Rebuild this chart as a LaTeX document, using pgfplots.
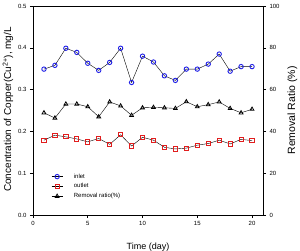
\documentclass[border=0pt]{standalone}
\usepackage{pgfplots}
\pgfplotsset{compat=1.18}
\usepackage{fontspec}
\setmainfont{Liberation Sans}
\definecolor{inblue}{RGB}{30,30,230}
\definecolor{outred}{RGB}{225,30,30}
\begin{document}
\begin{tikzpicture}
\useasboundingbox (-33pt,-35pt) rectangle (267pt,215pt);
\pgfplotsset{every axis/.append style={
  scale only axis, width=230pt, height=209pt,
  xmin=0, xmax=21,
  axis line style={line width=1pt},
  tick style={line width=0.6pt, black, major tick length=3pt},
  tick align=outside,
  tick label style={font=\fontsize{6}{7}\selectfont},
  /pgf/number format/assume math mode=true,
}}
\begin{axis}[
  at={(0,0)}, anchor=south west,
  ymin=0, ymax=0.5,
  ytick={0,0.1,0.2,0.3,0.4,0.5},
  yticklabel style={/pgf/number format/fixed, /pgf/number format/precision=1, /pgf/number format/fixed zerofill},
  xtick={0,5,10,15,20},
  axis y line*=left, axis x line*=bottom,
  xlabel={Time (day)},
  xlabel style={at={(axis description cs:0.5,-0.153)}, anchor=center, font=\fontsize{9}{10}\selectfont},
  ylabel={Concentration of Copper(Cu\textsuperscript{2+}), mg/L},
  ylabel style={at={(axis description cs:-0.1087,0.505)}, anchor=center, font=\fontsize{10}{12}\selectfont},
  legend style={draw=none, fill=none, at={(axis description cs:0.075,0.213)}, anchor=north west,
    font=\fontsize{6}{7}\selectfont, row sep=0pt, inner sep=1pt,
    /tikz/every odd column/.style={column sep=9pt}},
  legend cell align=left,
  legend image code/.code={\draw[mark repeat=2,mark phase=2] plot coordinates {(0pt,0pt) (5.5pt,0pt) (11pt,0pt)};},
]
\addplot[black, line width=0.4pt, mark=o, mark size=2.2pt, mark options={draw=inblue, line width=0.9pt, solid}] coordinates {
(1,0.349) (2,0.358) (3,0.399) (4,0.389) (5,0.363) (6,0.346) (7,0.365) (8,0.399) (9,0.317) (10,0.380)
(11,0.366) (12,0.333) (13,0.322) (14,0.349) (15,0.349) (16,0.361) (17,0.385) (18,0.344) (19,0.355) (20,0.355)};
\addlegendentry{inlet}
\addplot[black, line width=0.4pt, mark=square, mark size=2.1pt, mark options={draw=outred, line width=0.9pt, solid}] coordinates {
(1,0.179) (2,0.191) (3,0.187) (4,0.182) (5,0.175) (6,0.183) (7,0.169) (8,0.192) (9,0.165) (10,0.186)
(11,0.179) (12,0.162) (13,0.158) (14,0.160) (15,0.167) (16,0.171) (17,0.179) (18,0.170) (19,0.181) (20,0.178)};
\addlegendentry{outlet}
\addlegendimage{black, line width=0.4pt, mark=triangle, mark size=2.2pt, mark options={draw=black, line width=0.8pt, solid}}
\addlegendentry{Removal ratio(\%)}
\end{axis}
\begin{axis}[
  at={(0,0)}, anchor=south west,
  ymin=0, ymax=100,
  ytick={0,20,40,60,80,100},
  xtick=\empty,
  axis y line*=right, axis x line*=top,
  ylabel={Removal Ratio (\%)},
  ylabel style={at={(axis description cs:1.128,0.5)}, anchor=center, font=\fontsize{10.5}{12}\selectfont},
]
\addplot[black, line width=0.4pt, mark=triangle, mark size=2.2pt, mark options={draw=black, line width=0.8pt, solid}] coordinates {
(1,48.9) (2,46.4) (3,53.1) (4,53.1) (5,51.8) (6,47.0) (7,54.1) (8,52.2) (9,47.7) (10,51.3)
(11,51.5) (12,51.3) (13,51.0) (14,54.2) (15,51.8) (16,52.8) (17,54.1) (18,51.0) (19,48.9) (20,50.6)};
\end{axis}
\end{tikzpicture}
\end{document}
